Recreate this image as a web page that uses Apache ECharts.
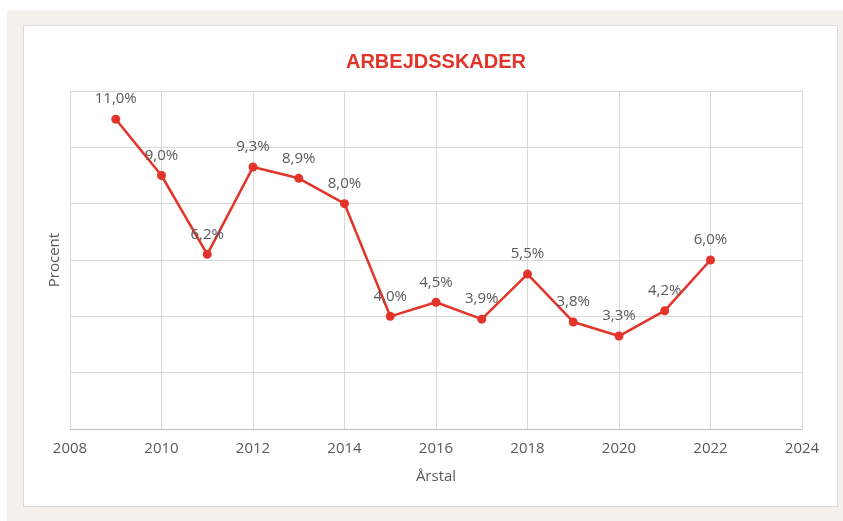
<!DOCTYPE html>
<html>
<head>
<meta charset="utf-8">
<script src="https://cdn.jsdelivr.net/npm/echarts@6/dist/echarts.min.js"></script>
<style>
  html, body { margin: 0; padding: 0; background: #ffffff; }
  .frame { position: absolute; left: 7px; top: 10px; width: 836px; height: 511px; background: #f4f1ec; }
  .panel { position: absolute; left: 23px; top: 25px; width: 813px; height: 480px; background: #ffffff; border: 1px solid #d9d9d9; }
  #chart { position: absolute; left: 0; top: 0; width: 843px; height: 521px; }
</style>
</head>
<body>
<div class="frame"></div>
<div class="panel"></div>
<div id="chart"></div>
<script>
// data
const years = [2009, 2010, 2011, 2012, 2013, 2014, 2015, 2016, 2017, 2018, 2019, 2020, 2021, 2022]
const procent = [11.0, 9.0, 6.2, 9.3, 8.9, 8.0, 4.0, 4.5, 3.9, 5.5, 3.8, 3.3, 4.2, 6.0]

const red = '#e3342a'
const grey = '#595959'
const font = '"Open Sans", sans-serif'

const chart = echarts.init(document.getElementById('chart'))

chart.setOption({
  animation: false,
  title: {
    text: 'ARBEJDSSKADER',
    left: 431,
    top: 47,
    textAlign: 'center',
    textStyle: { color: red, fontSize: 20, fontWeight: 'bold', fontFamily: '"Liberation Sans", Arial, sans-serif' }
  },
  grid: { left: 70, right: 41, top: 91, bottom: 92 },
  xAxis: {
    type: 'value',
    min: 2008,
    max: 2024,
    interval: 2,
    name: 'Årstal',
    nameLocation: 'middle',
    nameGap: 40,
    nameTextStyle: { color: grey, fontSize: 15, fontFamily: font },
    axisLine: { show: true, lineStyle: { color: '#bfbfbf', width: 1 } },
    axisTick: { show: false },
    axisLabel: { color: grey, fontSize: 15, margin: 12, fontFamily: font, formatter: (v) => String(v) },
    splitLine: { show: true, lineStyle: { color: '#d9d9d9', width: 1 } }
  },
  yAxis: {
    type: 'value',
    min: 0,
    max: 12,
    interval: 2,
    name: 'Procent',
    nameLocation: 'middle',
    nameGap: 8,
    nameTextStyle: { color: grey, fontSize: 15, fontFamily: font },
    axisLine: { show: true, lineStyle: { color: '#d9d9d9', width: 1 } },
    axisTick: { show: false },
    axisLabel: { show: false },
    splitLine: { show: true, lineStyle: { color: '#d9d9d9', width: 1 } }
  },
  series: [{
    type: 'line',
    data: years.map((y, i) => [y, procent[i]]),
    symbol: 'circle',
    symbolSize: 9,
    itemStyle: { color: red },
    lineStyle: { color: red, width: 2.5 },
    label: {
      show: true,
      position: 'top',
      distance: 8,
      color: grey,
      fontSize: 15,
      fontFamily: font,
      formatter: (p) => p.value[1].toFixed(1).replace('.', ',') + '%'
    }
  }]
})
</script>
</body>
</html>
